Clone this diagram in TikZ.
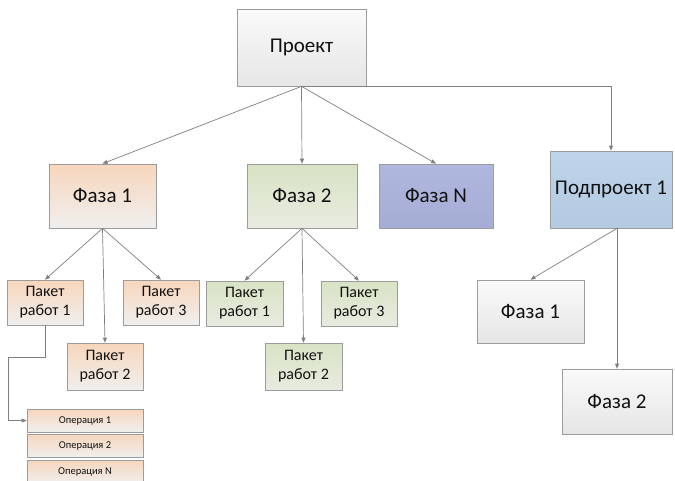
\documentclass[tikz,border=0pt]{standalone}
\usepackage{fontspec}
\setmainfont{Carlito}
\usetikzlibrary{arrows.meta,shadows}
\definecolor{edgec}{HTML}{9C9C9C}
\definecolor{linec}{HTML}{7F7F7F}
\definecolor{txt}{HTML}{111111}
\begin{document}
\begin{tikzpicture}[x=1pt,y=-1pt,
  box/.style={draw=edgec,line width=0.7pt,inner sep=1pt,align=center,text=txt,
    drop shadow={shadow xshift=1.2pt,shadow yshift=-1.2pt,opacity=0.25}},
  big/.style={box,font=\fontsize{21}{24}\selectfont},
  mid/.style={box,font=\fontsize{16}{19}\selectfont},
  small/.style={box,font=\fontsize{10.5}{12}\selectfont,minimum width=116pt,minimum height=23pt},
  graybox/.style={top color=white!98!black,bottom color=white!90!black},
  orangebox/.style={top color={rgb,255:red,247;green,214;blue,188},bottom color={rgb,255:red,240;green,239;blue,238}},
  greenbox/.style={top color={rgb,255:red,216;green,227;blue,196},bottom color={rgb,255:red,232;green,235;blue,224}},
  bluebox/.style={top color={rgb,255:red,175;green,183;blue,222},bottom color={rgb,255:red,165;green,173;blue,214}},
  skybox/.style={top color={rgb,255:red,190;green,212;blue,234},bottom color={rgb,255:red,180;green,202;blue,226}},
  pk/.style={mid,minimum width=76pt,minimum height=45pt},
  arr/.style={draw=linec,line width=0.7pt,-{Triangle[length=5pt,width=4pt]}}
]
\useasboundingbox (0,0) rectangle (675,480);
% top level
\node[big,graybox,minimum width=129pt,minimum height=77pt] (proj) at (301.5,47.5) {Проект};
\node[big,orangebox,minimum width=107pt,minimum height=64pt] (f1) at (102.5,196) {Фаза 1};
\node[big,greenbox,minimum width=110pt,minimum height=64pt] (f2) at (302,196) {Фаза 2};
\node[big,bluebox,minimum width=114pt,minimum height=64pt] (fN) at (436,196) {Фаза N};
\node[big,skybox,minimum width=122pt,minimum height=77pt] (sub) at (611,189.5) {Подпроект 1};
% work packages phase 1
\node[pk,orangebox] (p11) at (45,302.5) {Пакет\\работ 1};
\node[pk,orangebox,minimum height=47pt] (p12) at (105,366.5) {Пакет\\работ 2};
\node[pk,orangebox] (p13) at (161,302.5) {Пакет\\работ 3};
% work packages phase 2
\node[pk,greenbox,minimum width=77pt] (p21) at (244.5,303.5) {Пакет\\работ 1};
\node[pk,greenbox,minimum width=77pt,minimum height=47pt] (p22) at (303.5,366.5) {Пакет\\работ 2};
\node[pk,greenbox] (p23) at (359,303.5) {Пакет\\работ 3};
% subproject phases
\node[big,graybox,minimum width=107pt,minimum height=63pt] (r1) at (530.5,311.5) {Фаза 1};
\node[big,graybox,minimum width=110pt,minimum height=65pt] (r2) at (617,401.5) {Фаза 2};
% operations
\node[small,orangebox] (op1) at (85,420.5) {Операция 1};
\node[small,orangebox] (op2) at (85,445.5) {Операция 2};
\node[small,orangebox] (opN) at (85,471.5) {Операция N};
% connectors
\draw[arr] (proj.south) -- (f1.north);
\draw[arr] (proj.south) -- (f2.north);
\draw[arr] (proj.south) -- (fN.north);
\draw[arr] (proj.south) -| (sub.north);
\draw[arr] (f1.south) -- (p11.north);
\draw[arr] (f1.south) -- (p12.north);
\draw[arr] (f1.south) -- (p13.north);
\draw[arr] (f2.south) -- (p21.north);
\draw[arr] (f2.south) -- (p22.north);
\draw[arr] (f2.south) -- (p23.north);
\coordinate (sb) at (sub.south -| r2.north);
\draw[arr] (sb) -- (r1.north);
\draw[arr] (sb) -- (r2.north);
\coordinate (k1) at (8,357);
\draw[arr] (p11.south) -- (p11.south |- k1) -- (k1) |- (op1.west);
\end{tikzpicture}
\end{document}
